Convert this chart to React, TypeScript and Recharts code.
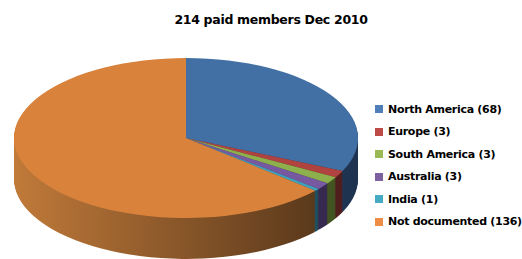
import { Cell, Pie, PieChart } from "recharts";

const regions = [
  "North America",
  "Europe",
  "South America",
  "Australia",
  "India",
  "Not documented",
];
const members = [68, 3, 3, 3, 1, 136];
const topColors = ["#4370A4", "#B0433F", "#8DB04C", "#7659A0", "#3FA3BE", "#D9823C"];
const legendColors = ["#4F7FB8", "#BE4B48", "#98B954", "#7D60A0", "#46AAC5", "#EE8E46"];
const sideLight = ["#36598A", "#8A3331", "#6E8C3A", "#5C4580", "#327F94", "#C27B3A"];
const sideDark = ["#1E3350", "#4E1D1C", "#3E5020", "#33264A", "#1C4A57", "#4E3118"];

const data = regions.map((name, i) => ({ name, value: members[i] }));

// the pie is drawn as a circle and squashed vertically for the 3D look
const SQUASH = 0.465;
const R = 172;
const CX = 180;
const CY = 180;
const DEPTH = 88;
const layers: number[] = [];
for (let k = DEPTH; k >= 1; k -= 2) layers.push(k);

export default function App() {
  return (
    <div
      style={{
        position: "fixed",
        left: 0,
        top: 0,
        width: 522,
        height: 259,
        background: "#fff",
        overflow: "hidden",
        fontFamily: "'DejaVu Sans', sans-serif",
      }}
    >
      <div
        style={{
          position: "absolute",
          left: 6,
          width: 530,
          top: 12,
          textAlign: "center",
          fontWeight: "bold",
          fontSize: 12.5,
          letterSpacing: -0.3,
        }}
      >
        214 paid members Dec 2010
      </div>

      <div
        style={{
          position: "absolute",
          left: 1,
          top: 136 - CY * SQUASH,
          transform: `scaleY(${SQUASH})`,
          transformOrigin: "top left",
        }}
      >
        <PieChart width={360} height={CY + R + DEPTH + 10}>
          <defs>
            {regions.map((r, i) => (
              <linearGradient
                key={r}
                id={`side${i}`}
                gradientUnits="userSpaceOnUse"
                x1={CX - R}
                x2={CX + R}
                y1={0}
                y2={0}
              >
                <stop offset="0%" stopColor={sideLight[i]} />
                <stop offset="100%" stopColor={sideDark[i]} />
              </linearGradient>
            ))}
          </defs>
          {layers.map((k) => (
            <Pie
              key={k}
              data={data}
              dataKey="value"
              cx={CX}
              cy={CY + k}
              outerRadius={R}
              startAngle={90}
              endAngle={-270}
              stroke="none"
              isAnimationActive={false}
            >
              {data.map((d, i) => (
                <Cell key={d.name} fill={`url(#side${i})`} />
              ))}
            </Pie>
          ))}
          <Pie
            data={data}
            dataKey="value"
            cx={CX}
            cy={CY}
            outerRadius={R}
            startAngle={90}
            endAngle={-270}
            stroke="none"
            isAnimationActive={false}
          >
            {data.map((d, i) => (
              <Cell key={d.name} fill={topColors[i]} />
            ))}
          </Pie>
        </PieChart>
      </div>

      <div style={{ position: "absolute", left: 375, top: 98 }}>
        {data.map((d, i) => (
          <div
            key={d.name}
            style={{
              display: "flex",
              alignItems: "center",
              height: 22.5,
              fontSize: 11,
              fontWeight: "bold",
              letterSpacing: -0.3,
              whiteSpace: "nowrap",
            }}
          >
            <span
              style={{
                display: "inline-block",
                width: 8,
                height: 8,
                background: legendColors[i],
                marginRight: 5,
              }}
            />
            {d.name} ({d.value})
          </div>
        ))}
      </div>
    </div>
  );
}
